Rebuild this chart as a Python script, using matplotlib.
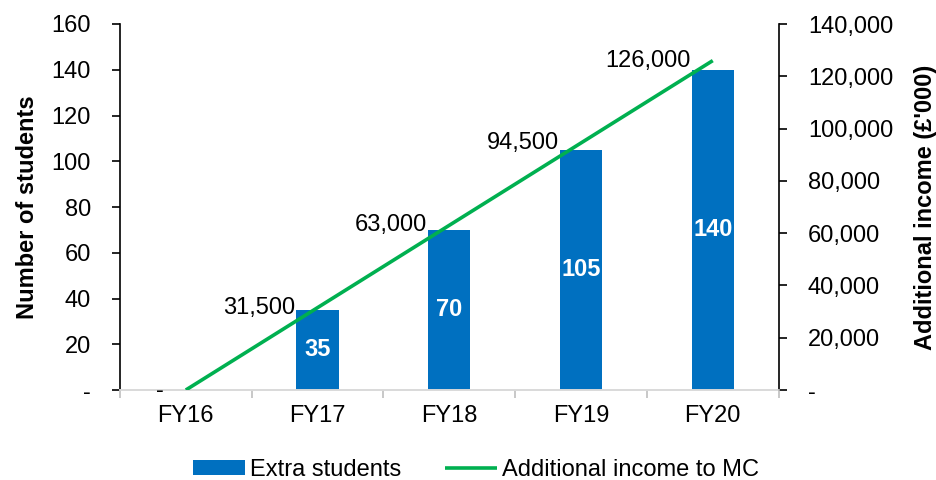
import numpy as np
import matplotlib.pyplot as plt
from matplotlib.ticker import FuncFormatter, FixedLocator

plt.rcParams['font.family'] = ['Liberation Sans', 'DejaVu Sans']

# Data
years = ['FY16', 'FY17', 'FY18', 'FY19', 'FY20']
extra_students = [0, 35, 70, 105, 140]
extra_income = [0, 31500, 63000, 94500, 126000]

BLUE = '#0070C0'
GREEN = '#00B050'
FS = 17

x = np.arange(len(years))

fig = plt.figure(figsize=(9.37, 4.8), dpi=100)
ax = fig.add_axes([0.128, 0.1875, 0.703, 0.7625])
ax2 = ax.twinx()

# Bars on the left axis
bars = ax.bar(x, extra_students, width=0.32, color=BLUE, label='Extra students', zorder=2)
for xi, v in zip(x, extra_students):
    if v == 0:
        # zero bar: dash label sits just left of the category centre
        ax2.annotate('-', (xi, 0), xytext=(-19, -1), textcoords='offset points',
                     ha='center', va='center', fontsize=FS, color='black',
                     annotation_clip=False, zorder=5)
    else:
        ax.text(xi, v / 2, f'{v}', ha='center', va='center', fontsize=FS,
                color='white', fontweight='bold')

# Income line on the right axis
line, = ax2.plot(x, extra_income, color=GREEN, lw=2.6, label='Additional income to MC',
                 solid_capstyle='butt', zorder=3)
for xi, v in zip(x, extra_income):
    if v == 0:
        continue
    ax2.annotate(f'{v:,}', (xi, v), xytext=(-16, 0), textcoords='offset points',
                 ha='right', va='center', fontsize=FS, color='black')

ax.set_xlim(-0.5, 4.5)
ax.set_ylim(0, 160)
ax2.set_ylim(0, 140000)

ax.set_yticks(np.arange(0, 161, 20))
ax2.set_yticks(np.arange(0, 140001, 20000))
ax.yaxis.set_major_formatter(FuncFormatter(lambda v, p: '-' if v == 0 else f'{v:.0f}'))
ax2.yaxis.set_major_formatter(FuncFormatter(lambda v, p: '-' if v == 0 else f'{v:,.0f}'))

# Category labels at centres, tick marks at category boundaries
ax.set_xticks(x)
ax.set_xticklabels(years)
ax.xaxis.set_minor_locator(FixedLocator(np.arange(-0.5, 4.6, 1)))
ax.tick_params(axis='x', which='major', length=0, labelsize=FS, pad=11)
ax.tick_params(axis='x', which='minor', length=6, color='#BFBFBF', width=1.2)
ax.tick_params(axis='y', length=6, width=1.2, labelsize=FS, pad=15)
ax2.tick_params(axis='y', length=6, width=1.2, labelsize=FS, pad=15)

for a in (ax, ax2):
    a.spines['top'].set_visible(False)
    a.spines['bottom'].set_color('#D9D9D9')
    a.spines['bottom'].set_linewidth(1.2)
    a.spines['left'].set_linewidth(1.2)
    a.spines['right'].set_linewidth(1.2)
ax.spines['right'].set_visible(False)
ax2.spines['left'].set_visible(False)

ax.set_ylabel('Number of students', fontsize=FS, fontweight='bold', labelpad=9)
ax2.set_ylabel("Additional income (£'000)", fontsize=FS, fontweight='bold', labelpad=15)

fig.legend(handles=[bars, line], loc='center', bbox_to_anchor=(0.508, 0.021), ncol=2,
           frameon=False, fontsize=FS, handlelength=2.2, handleheight=0.6,
           columnspacing=1.85, handletextpad=0.2, borderpad=0)

fig.savefig('out.png', dpi=100)
